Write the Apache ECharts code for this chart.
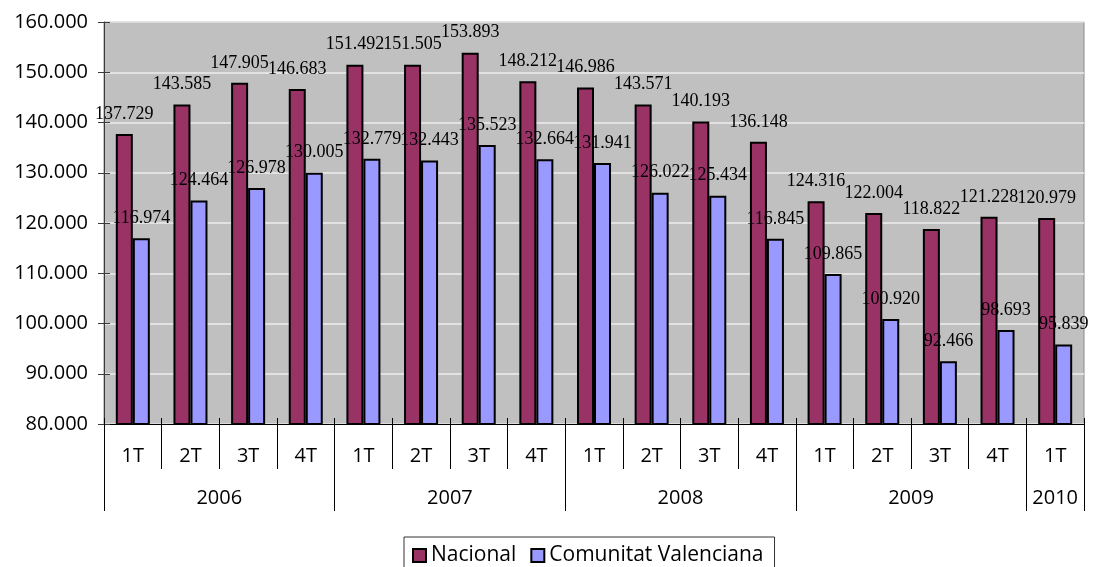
<!DOCTYPE html>
<html>
<head>
<meta charset="utf-8">
<script src="https://cdn.jsdelivr.net/npm/echarts@6/dist/echarts.min.js"></script>
<style>
  html, body { margin: 0; padding: 0; background: #ffffff; }
  #chart { width: 1093px; height: 567px; }
</style>
</head>
<body>
<div id="chart"></div>
<script>
// Quarterly figures, 2006 Q1 – 2010 Q1
const quarterLabels = ['1T','2T','3T','4T','1T','2T','3T','4T','1T','2T','3T','4T','1T','2T','3T','4T','1T'];
const yearLabels = ['2006', '2007', '2008', '2009', '2010'];
const quartersPerYear = [4, 4, 4, 4, 1];

const nacional = [137729, 143585, 147905, 146683, 151492, 151505, 153893, 148212,
                  146986, 143571, 140193, 136148, 124316, 122004, 118822, 121228, 120979];
const valenciana = [116974, 124464, 126978, 130005, 132779, 132443, 135523, 132664,
                    131941, 126022, 125434, 116845, 109865, 100920, 92466, 98693, 95839];

const seriesNames = ['Nacional', 'Comunitat Valenciana'];

// Spanish-style thousands separator: 137729 -> "137.729"
function fmt(v) {
  return String(Math.round(v)).replace(/\B(?=(\d{3})+(?!\d))/g, '.');
}

// Year row: half-quarter slots so each year name sits in the middle of its span
// and the separators fall on the year boundaries.
const yearSlots = [];
const yearTickSlots = [0];
let pos = 0;
quartersPerYear.forEach(function (n, i) {
  const start = pos * 2;
  pos += n;
  yearTickSlots.push(pos * 2);
  for (let k = start; k < pos * 2; k++) {
    yearSlots.push(k === start + n ? yearLabels[i] : '');
  }
});
yearSlots.push('');

const sansFont = '"Open Sans", "Noto Sans", sans-serif';
const serifFont = '"Liberation Serif", "Times New Roman", serif';

const chart = echarts.init(document.getElementById('chart'), null, { renderer: 'canvas' });

const barLabel = {
  show: true,
  position: 'top',
  distance: 11,
  fontFamily: serifFont,
  fontSize: 18,
  color: '#000000',
  formatter: function (p) { return fmt(p.value); }
};

chart.setOption({
  animation: false,
  backgroundColor: '#ffffff',
  grid: {
    left: 104, right: 9, top: 22, bottom: 143,
    show: true,
    backgroundColor: '#c0c0c0',
    borderColor: '#8a8a8a',
    borderWidth: 1
  },
  legend: {
    left: 404,
    top: 537,
    padding: [8, 11, 10, 8],
    itemGap: 14,
    itemWidth: 13,
    itemHeight: 13,
    icon: 'rect',
    borderColor: '#333333',
    borderWidth: 1,
    textStyle: { fontFamily: sansFont, fontSize: 21, color: '#000000' },
    data: seriesNames
  },
  xAxis: [
    {
      type: 'category',
      data: quarterLabels,
      position: 'bottom',
      boundaryGap: true,
      axisLine: { show: true, onZero: false, lineStyle: { color: '#000000', width: 1 } },
      axisTick: { show: true, interval: 0, length: 45, lineStyle: { color: '#000000' } },
      axisLabel: { interval: 0, margin: 22, fontFamily: sansFont, fontSize: 20, color: '#000000' },
      splitLine: { show: false }
    },
    {
      type: 'category',
      data: quarterLabels,
      position: 'bottom',
      boundaryGap: true,
      axisLine: { show: false, onZero: false },
      axisTick: { show: true, inside: true, interval: 0, length: 6, lineStyle: { color: '#000000' } },
      axisLabel: { show: false },
      splitLine: { show: false }
    },
    {
      type: 'category',
      data: yearSlots,
      position: 'bottom',
      boundaryGap: false,
      axisLine: { show: false, onZero: false },
      axisTick: {
        show: true,
        length: 87,
        interval: function (index) { return yearTickSlots.indexOf(index) >= 0; },
        lineStyle: { color: '#000000' }
      },
      axisLabel: { interval: 0, margin: 64, fontFamily: sansFont, fontSize: 20, color: '#000000' },
      splitLine: { show: false }
    }
  ],
  yAxis: [
    {
      type: 'value',
      position: 'left',
      min: 80000, max: 160000, interval: 10000,
      axisLine: { show: true, onZero: false, lineStyle: { color: '#3a3a3a', width: 1 } },
      axisTick: { show: true, length: 6, lineStyle: { color: '#3a3a3a' } },
      axisLabel: {
        margin: 16,
        fontFamily: sansFont, fontSize: 20, color: '#000000',
        formatter: fmt
      },
      splitLine: { show: true, lineStyle: { color: '#eeeeee', width: 1.5 } }
    },
    {
      type: 'value',
      position: 'left',
      min: 80000, max: 160000, interval: 10000,
      axisLine: { show: false, onZero: false },
      axisTick: { show: true, inside: true, length: 6, lineStyle: { color: '#3a3a3a' } },
      axisLabel: { show: false },
      splitLine: { show: false }
    }
  ],
  series: [
    {
      name: seriesNames[0],
      type: 'bar',
      xAxisIndex: 0, yAxisIndex: 0,
      data: nacional,
      barGap: '0%',
      barCategoryGap: '41%',
      itemStyle: { color: '#993366', borderColor: '#000000', borderWidth: 2 },
      label: barLabel
    },
    {
      name: seriesNames[1],
      type: 'bar',
      xAxisIndex: 0, yAxisIndex: 0,
      data: valenciana,
      barGap: '0%',
      barCategoryGap: '41%',
      itemStyle: { color: '#9999ff', borderColor: '#000000', borderWidth: 2 },
      label: barLabel
    }
  ]
});
</script>
</body>
</html>
